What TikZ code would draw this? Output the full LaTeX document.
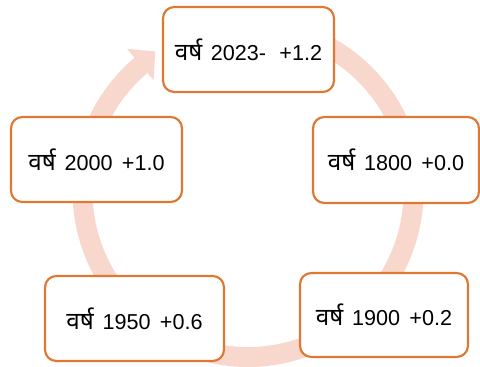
\documentclass[tikz,border=0pt]{standalone}
\usepackage{fontspec}
\usetikzlibrary{calc}
\setmainfont{Liberation Sans}
\newfontfamily\deva[Script=Devanagari,Scale=1.12]{Noto Sans}
\definecolor{boxline}{RGB}{222,120,50}
\definecolor{ringpink}{RGB}{248,216,205}
\newcommand{\yrlabel}[3]{{\deva वर्ष}\hspace{6.5pt}#1\hspace{#3}#2}
\begin{document}
\begin{tikzpicture}[x=0.75pt,y=0.75pt,
  yearbox/.style={draw=boxline,line width=1.6pt,fill=white,rounded corners=8.5pt,
    inner sep=0pt,font=\fontsize{16.2}{19}\selectfont,align=center}]
\useasboundingbox (0,0) rectangle (480,367);
\coordinate (c) at (248,175.5);
% ring with arrow head
\draw[ringpink,line width=15pt] ($(c)+(64:165.5)$) arc[start angle=64,end angle=-230,radius=165.5];
\fill[ringpink] ($(c)+(130.3:146)$) -- ($(c)+(130.3:187)$) -- ($(c)+(123.5:168)$) -- cycle;
% boxes
\node[yearbox,minimum width=128.25pt,minimum height=63.75pt] (y2023) at (248.5,317.5) {\yrlabel{2023-}{+1.2}{10pt}};
\node[yearbox,minimum width=124.5pt,minimum height=64.5pt] (y1800) at (396,207) {\yrlabel{1800}{+0.0}{7pt}};
\node[yearbox,minimum width=126pt,minimum height=63pt] (y1900) at (384,52) {\yrlabel{1900}{+0.2}{7pt}};
\node[yearbox,minimum width=134.25pt,minimum height=63.75pt] (y1950) at (134.5,48.5) {\yrlabel{1950}{+0.6}{7pt}};
\node[yearbox,minimum width=128.25pt,minimum height=63.75pt] (y2000) at (96.5,207.5) {\yrlabel{2000}{+1.0}{7pt}};
\end{tikzpicture}
\end{document}
